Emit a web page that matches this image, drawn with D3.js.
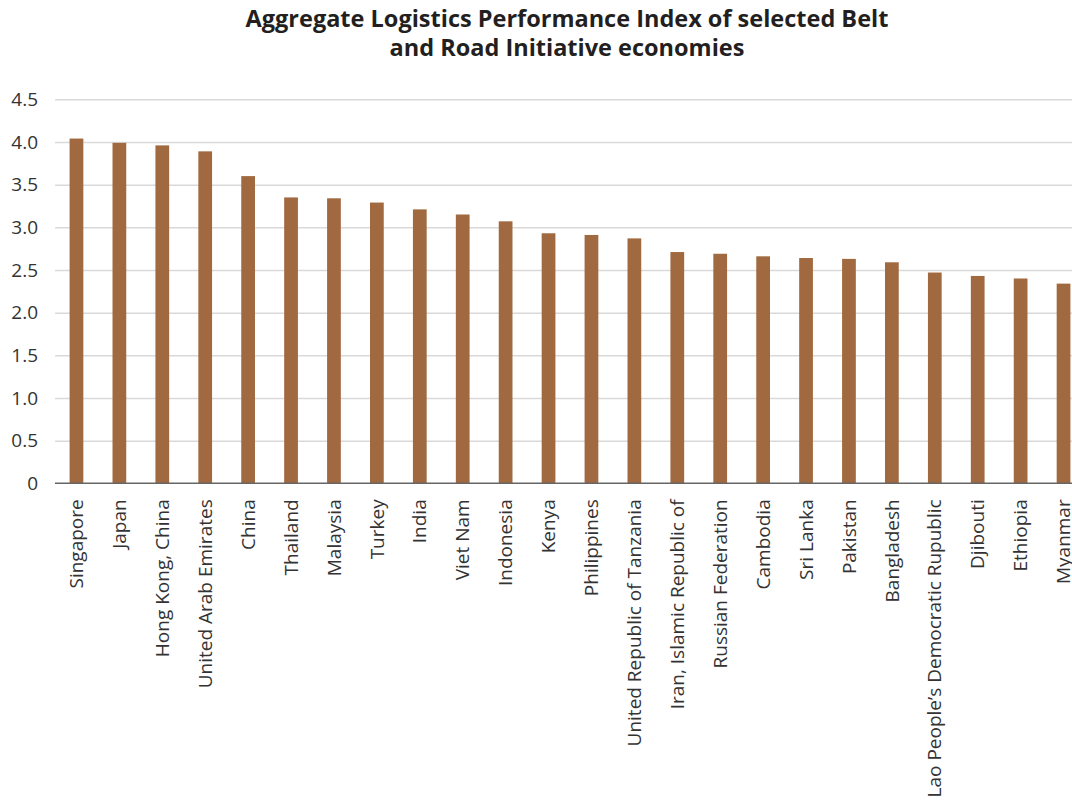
<!DOCTYPE html>
<html>
<head>
<meta charset="UTF-8"/>
<title>Aggregate Logistics Performance Index</title>
<script src="https://cdn.jsdelivr.net/npm/d3@7"></script>
<style>
body {
  margin: 0;
  background: #fff;
  font-family: 'Open Sans', sans-serif;
}
svg {
  display: block;
}
.grid line {
  stroke: #d9d9d9;
  stroke-width: 1.5;
}
.grid path {
  stroke-width: 0;
}
.bar {
  fill: #a0693f;
}
text.title {
  font-size: 23.5px;
  font-weight: 700;
  fill: #231f20;
}
.axis text {
  font-size: 19px;
  fill: #333;
  font-family: 'Open Sans', sans-serif;
}
.axis path, .axis line {
  stroke: none;
}
line.baseline {
  stroke: #666;
  stroke-width: 1.5;
}
</style>
</head>
<body>
<svg width="1072" height="807"></svg>
<script>
const countries = [
  'Singapore', 'Japan', 'Hong Kong, China', 'United Arab Emirates', 'China',
  'Thailand', 'Malaysia', 'Turkey', 'India', 'Viet Nam', 'Indonesia', 'Kenya',
  'Philippines', 'United Republic of Tanzania', 'Iran, Islamic Republic of',
  'Russian Federation', 'Cambodia', 'Sri Lanka', 'Pakistan', 'Bangladesh',
  'Lao People\u2019s Democratic Rupublic', 'Djibouti', 'Ethiopia', 'Myanmar'
];
const lpi = [
  4.04, 3.99, 3.96, 3.89, 3.60, 3.35, 3.34, 3.29, 3.21, 3.15, 3.07, 2.93,
  2.91, 2.87, 2.71, 2.69, 2.66, 2.64, 2.63, 2.59, 2.47, 2.43, 2.40, 2.34
];
const yTicks = [0, 0.5, 1.0, 1.5, 2.0, 2.5, 3.0, 3.5, 4.0, 4.5];
const yTickLabels = ['0', '0.5', '1.0', '1.5', '2.0', '2.5', '3.0', '3.5', '4.0', '4.5'];
const titleLines = [
  'Aggregate Logistics Performance Index of selected Belt',
  'and Road Initiative economies'
];

const data = countries.map((c, i) => ({ country: c, value: lpi[i] }));

const svg = d3.select('svg');

// plot area runs a little past the right edge, like the original crop
const plotLeft = 55, plotRight = 1085, plotTop = 99.3, plotBottom = 483.3;

const xScale = d3.scaleBand()
  .domain(countries)
  .range([plotLeft, plotRight])
  .paddingInner(0.68)
  .paddingOuter(0.34);

const yScale = d3.scaleLinear()
  .domain([0, 4.5])
  .range([plotBottom, plotTop]);

svg.append('g')
  .attr('class', 'grid')
  .attr('transform', `translate(${plotLeft},0)`)
  .call(d3.axisLeft(yScale)
    .tickValues(yTicks.slice(1))
    .tickSize(-(1072 - plotLeft))
    .tickFormat(''));

svg.append('g')
  .selectAll('rect')
  .data(data)
  .enter()
  .append('rect')
  .attr('class', 'bar')
  .attr('x', d => xScale(d.country))
  .attr('y', d => yScale(d.value))
  .attr('width', xScale.bandwidth())
  .attr('height', d => yScale(0) - yScale(d.value));

svg.append('line')
  .attr('class', 'baseline')
  .attr('x1', plotLeft)
  .attr('x2', 1072)
  .attr('y1', yScale(0))
  .attr('y2', yScale(0));

svg.append('g')
  .attr('class', 'axis')
  .attr('transform', `translate(${plotLeft - 14},0)`)
  .call(d3.axisLeft(yScale)
    .tickValues(yTicks)
    .tickSize(0)
    .tickFormat((d, i) => yTickLabels[i]));

const xAxis = svg.append('g')
  .attr('class', 'axis')
  .attr('transform', `translate(0,${plotBottom})`)
  .call(d3.axisBottom(xScale).tickSize(0).tickPadding(0));

xAxis.selectAll('text')
  .attr('text-anchor', 'end')
  .attr('dy', '0.35em')
  .attr('transform', 'translate(0,16) rotate(-90)');

svg.selectAll('text.title')
  .data(titleLines)
  .enter()
  .append('text')
  .attr('class', 'title')
  .attr('x', 567)
  .attr('y', (d, i) => 27 + i * 29)
  .attr('text-anchor', 'middle')
  .text(d => d);
</script>
</body>
</html>
